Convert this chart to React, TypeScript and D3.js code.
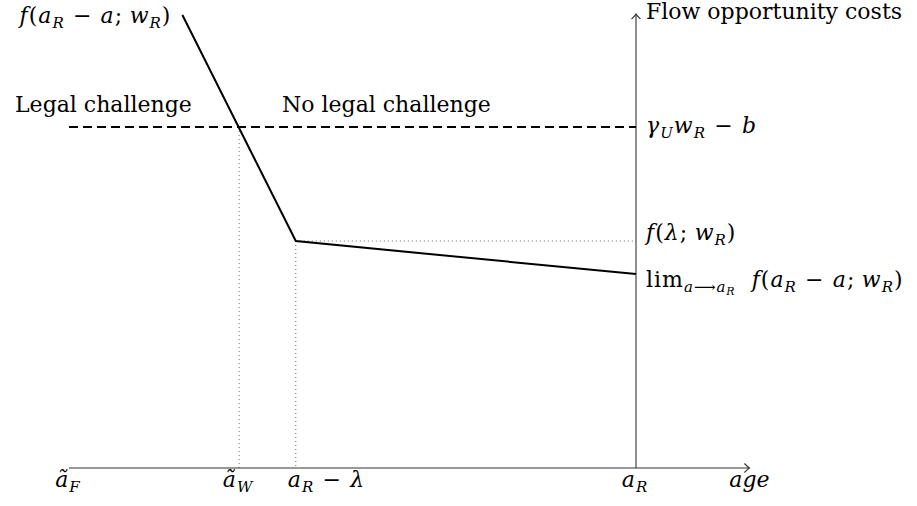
import React from 'react';
import * as d3 from 'd3';

type Seg = { t: string; it?: boolean; sub?: number };

// age axis positions (arbitrary units, a_F = 0, a_R = 10)
const ageTicks = [0, 3, 4, 10];
const ageTickLabels: Seg[][] = [
  [{ t: 'ã', it: true }, { t: 'F', it: true, sub: 1 }],
  [{ t: 'ã', it: true }, { t: 'W', it: true, sub: 1 }],
  [{ t: 'a', it: true }, { t: 'R', it: true, sub: 1 }, { t: ' − ' }, { t: 'λ', it: true }],
  [{ t: 'a', it: true }, { t: 'R', it: true, sub: 1 }],
];
const ageAxisEnd = 12;

// flow opportunity cost curve f(a_R - a; w_R)
const curveAge = [2, 4, 10];
const curveCost = [10, 5.01, 4.28];
const costAxisTop = 10.02;

// outside option gamma_U w_R - b
const thresholdCost = 7.53;

const costLabels: Seg[][] = [
  [{ t: 'γ', it: true }, { t: 'U', it: true, sub: 1 }, { t: 'w', it: true }, { t: 'R', it: true, sub: 1 }, { t: ' − ' }, { t: 'b', it: true }],
  [{ t: 'f', it: true }, { t: '(' }, { t: 'λ', it: true }, { t: '; ' }, { t: 'w', it: true }, { t: 'R', it: true, sub: 1 }, { t: ')' }],
  [
    { t: 'lim' }, { t: 'a', it: true, sub: 1 }, { t: '⟶', sub: 1 }, { t: 'a', it: true, sub: 1 }, { t: 'R', it: true, sub: 2 },
    { t: '  ' }, { t: 'f', it: true }, { t: '(' }, { t: 'a', it: true }, { t: 'R', it: true, sub: 1 }, { t: ' − ' }, { t: 'a', it: true },
    { t: '; ' }, { t: 'w', it: true }, { t: 'R', it: true, sub: 1 }, { t: ')' },
  ],
];
const curveLabel: Seg[] = [
  { t: 'f', it: true }, { t: '(' }, { t: 'a', it: true }, { t: 'R', it: true, sub: 1 }, { t: ' − ' }, { t: 'a', it: true },
  { t: '; ' }, { t: 'w', it: true }, { t: 'R', it: true, sub: 1 }, { t: ')' },
];
const regionLabels = ['Legal challenge', 'No legal challenge'];
const yAxisTitle = 'Flow opportunity costs';
const xAxisTitle = 'age';

const FONT = "'DejaVu Serif', serif";
const FS = 22;

function MathText({ segs, x, y, anchor = 'start' }: { segs: Seg[]; x: number; y: number; anchor?: string }) {
  const shifts = [0, 5, 8];
  const sizes = [FS, 15, 11];
  let cur = 0;
  return (
    <text x={x} y={y} textAnchor={anchor} fontFamily={FONT} fontSize={FS} xmlSpace="preserve" letterSpacing={1}>
      {segs.map((s, i) => {
        const lvl = s.sub || 0;
        const dy = shifts[lvl] - cur;
        cur = shifts[lvl];
        const txt = s.t.replace(/ − /g, '\u2004−\u2004').replace(/; /g, ';\u2005');
        return (
          <tspan key={i} dy={dy} fontSize={sizes[lvl]} fontStyle={s.it ? 'italic' : 'normal'}>
            {txt}
          </tspan>
        );
      })}
    </text>
  );
}

const arrowRight = (tx: number, ty: number) =>
  `M${tx - 5},${ty - 4.5} Q${tx - 1.5},${ty - 1} ${tx},${ty} Q${tx - 1.5},${ty + 1} ${tx - 5},${ty + 4.5}`;
const arrowUp = (tx: number, ty: number) =>
  `M${tx - 4.5},${ty + 5} Q${tx - 1},${ty + 1.5} ${tx},${ty} Q${tx + 1},${ty + 1.5} ${tx + 4.5},${ty + 5}`;

export default function App() {
  const width = 917;
  const height = 506;
  const x = d3.scaleLinear().domain([0, 10]).range([69, 636]);
  const y = d3.scaleLinear().domain([0, 10]).range([468, 15]);

  const line = d3
    .line<number>()
    .x((_, i) => x(curveAge[i]))
    .y((d) => y(d));

  const x0 = x(0);
  const y0 = y(0);
  const xR = x(ageTicks[3]);
  const labelOffsets = [6, -1, 13];
  const tickAnchors = ['middle', 'middle', 'start', 'middle'];
  const tickShift = [-1, -1, -8, -1];

  return (
    <svg width={width} height={height} style={{ position: 'absolute', left: 0, top: 0 }}>
      <rect width={width} height={height} fill="#fff" />
      {/* dotted guides */}
      <g stroke="#666" strokeWidth={1} strokeDasharray="1,3" fill="none">
        <line x1={x(ageTicks[1])} x2={x(ageTicks[1])} y1={y(thresholdCost)} y2={y0} />
        <line x1={x(ageTicks[2])} x2={x(ageTicks[2])} y1={y(curveCost[1])} y2={y0} />
        <line x1={x(ageTicks[2])} x2={xR} y1={y(curveCost[1])} y2={y(curveCost[1])} />
      </g>
      {/* axes */}
      <g stroke="#333" strokeWidth={1.1} fill="none">
        <line x1={x0} x2={x(ageAxisEnd)} y1={y0} y2={y0} />
        <path d={arrowRight(x(ageAxisEnd), y0)} />
        <line x1={xR} x2={xR} y1={y0} y2={y(costAxisTop)} />
        <path d={arrowUp(xR, y(costAxisTop))} />
      </g>
      {/* threshold */}
      <line x1={x0} x2={xR} y1={y(thresholdCost)} y2={y(thresholdCost)} stroke="#000" strokeWidth={2} strokeDasharray="9,5" />
      {/* cost curve */}
      <path d={line(curveCost) || ''} fill="none" stroke="#000" strokeWidth={2} />

      {/* labels */}
      <MathText segs={curveLabel} x={x(curveAge[0]) - 11} y={y(curveCost[0]) + 8} anchor="end" />
      <text x={15} y={112} fontFamily={FONT} fontSize={FS}>{regionLabels[0]}</text>
      <text x={282} y={112} fontFamily={FONT} fontSize={FS}>{regionLabels[1]}</text>
      <text x={xR + 10} y={y(costAxisTop) + 5} fontFamily={FONT} fontSize={FS}>{yAxisTitle}</text>
      {[thresholdCost, curveCost[1], curveCost[2]].map((v, i) => (
        <MathText key={i} segs={costLabels[i]} x={xR + 10} y={y(v) + labelOffsets[i]} />
      ))}
      {ageTicks.map((t, i) => (
        <MathText key={i} segs={ageTickLabels[i]} x={x(t) + tickShift[i]} y={y0 + 19} anchor={tickAnchors[i]} />
      ))}
      <text x={x(ageAxisEnd)} y={y0 + 19} textAnchor="middle" fontFamily={FONT} fontSize={FS} fontStyle="italic">
        {xAxisTitle}
      </text>
    </svg>
  );
}
